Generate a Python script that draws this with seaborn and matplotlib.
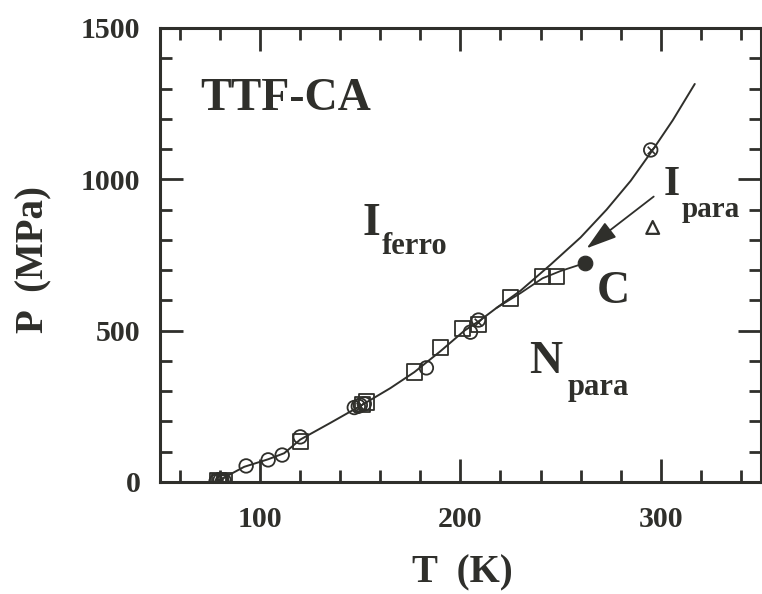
import numpy as np
import pandas as pd
import matplotlib
matplotlib.use("Agg")
import matplotlib.pyplot as plt
from matplotlib.ticker import MultipleLocator
import seaborn as sns

# ---- data ----
T_curve = [78, 92, 104, 112, 120, 135, 151, 165, 177, 190, 202, 210, 218, 230, 245, 260, 273, 285, 296, 306, 317]
P_curve = [0, 50, 75, 95, 140, 195, 255, 310, 363, 432, 500, 535, 575, 632, 718, 808, 900, 995, 1097, 1195, 1315]

T_branch = [218, 230, 241, 250, 262]
P_branch = [575, 624, 673, 697, 723]

T_circle = [78, 80, 81, 82, 93, 104, 111, 120, 147, 149, 150, 152, 183, 205, 209, 295]
P_circle = [2, 6, 0, 4, 53, 73, 89, 149, 246, 250, 254, 258, 377, 495, 535, 1097]

T_square = [79, 80, 82, 120, 151, 153, 177, 190, 201, 209, 225, 241, 248]
P_square = [3, 0, 5, 133, 256, 264, 363, 443, 506, 520, 608, 680, 680]

T_cross = [80, 150, 209, 295]
P_cross = [3, 252, 530, 1097]

T_tri = [296]
P_tri = [841]

T_C = [262]
P_C = [723]

INK = "#2f2f2b"

sns.set_style("ticks")
plt.rcParams["font.family"] = ["Liberation Serif", "DejaVu Serif"]
plt.rcParams["font.weight"] = "bold"

fig = plt.figure(figsize=(7.62, 5.94), dpi=100)
ax = fig.add_axes([0.21, 0.1886, 0.7885, 0.7643])

sns.lineplot(x=T_curve, y=P_curve, sort=False, color=INK, linewidth=1.4, ax=ax)
sns.lineplot(x=T_branch, y=P_branch, sort=False, color=INK, linewidth=1.3, ax=ax)

sns.scatterplot(x=T_circle, y=P_circle, marker="o", s=95, facecolor="none",
                edgecolor=INK, linewidth=1.3, ax=ax, zorder=3)
sns.scatterplot(x=T_square, y=P_square, marker="s", s=120, facecolor="none",
                edgecolor=INK, linewidth=1.3, ax=ax, zorder=3)
sns.scatterplot(x=T_cross, y=P_cross, marker="x", s=30, color=INK,
                linewidth=1.2, ax=ax, zorder=4)
sns.scatterplot(x=T_tri, y=P_tri, marker="^", s=85, facecolor="none",
                edgecolor=INK, linewidth=1.6, ax=ax, zorder=3)
sns.scatterplot(x=T_C, y=P_C, marker="o", s=110, color=INK, edgecolor=INK, ax=ax, zorder=4)

ax.set_xlim(50, 350)
ax.set_ylim(0, 1500)
ax.xaxis.set_major_locator(MultipleLocator(100))
ax.xaxis.set_minor_locator(MultipleLocator(20))
ax.yaxis.set_major_locator(MultipleLocator(500))
ax.yaxis.set_minor_locator(MultipleLocator(100))

for s in ax.spines.values():
    s.set_linewidth(2.2)
    s.set_color(INK)

ax.tick_params(which="both", direction="in", top=True, right=True, color=INK,
               width=2.0, labelcolor=INK)
ax.tick_params(which="major", length=16.5)
ax.tick_params(which="minor", length=8.5)
ax.tick_params(axis="x", which="major", labelsize=21.5, pad=17)
ax.tick_params(axis="y", which="major", labelsize=21.5, pad=14)
for lab in ax.get_xticklabels() + ax.get_yticklabels():
    lab.set_fontweight("bold")

ax.set_xlabel("T  (K)", fontsize=28, fontweight="bold", color=INK)
ax.set_ylabel("P  (MPa)", fontsize=28, fontweight="bold", color=INK)
ax.xaxis.label.set_va("center")
ax.yaxis.label.set_va("center")
ax.xaxis.set_label_coords(0.503, -0.2)
ax.yaxis.set_label_coords(-0.21, 0.49)

txt = dict(color=INK, fontweight="bold", va="baseline", ha="left")
ax.text(70, 1229, "TTF-CA", fontsize=33, **txt)
ax.text(151, 816, "I", fontsize=33, **txt)
ax.text(160.6, 753, "ferro", fontsize=22, **txt)
ax.text(301.6, 948, "I", fontsize=30, **txt)
ax.text(310.6, 875, "para", fontsize=21, **txt)
ax.text(268.2, 591, "C", fontsize=33, **txt)
ax.text(234.4, 360, "N", fontsize=33, **txt)
ax.text(253.4, 287, "para", fontsize=22, **txt)

ax.annotate("", xy=(263, 772), xytext=(296.5, 943),
            arrowprops=dict(arrowstyle="-|>,head_length=0.42,head_width=0.13",
                            mutation_scale=45, color=INK, lw=1.3,
                            shrinkA=0, shrinkB=0))

fig.savefig("out.png", dpi=100, facecolor="white")
